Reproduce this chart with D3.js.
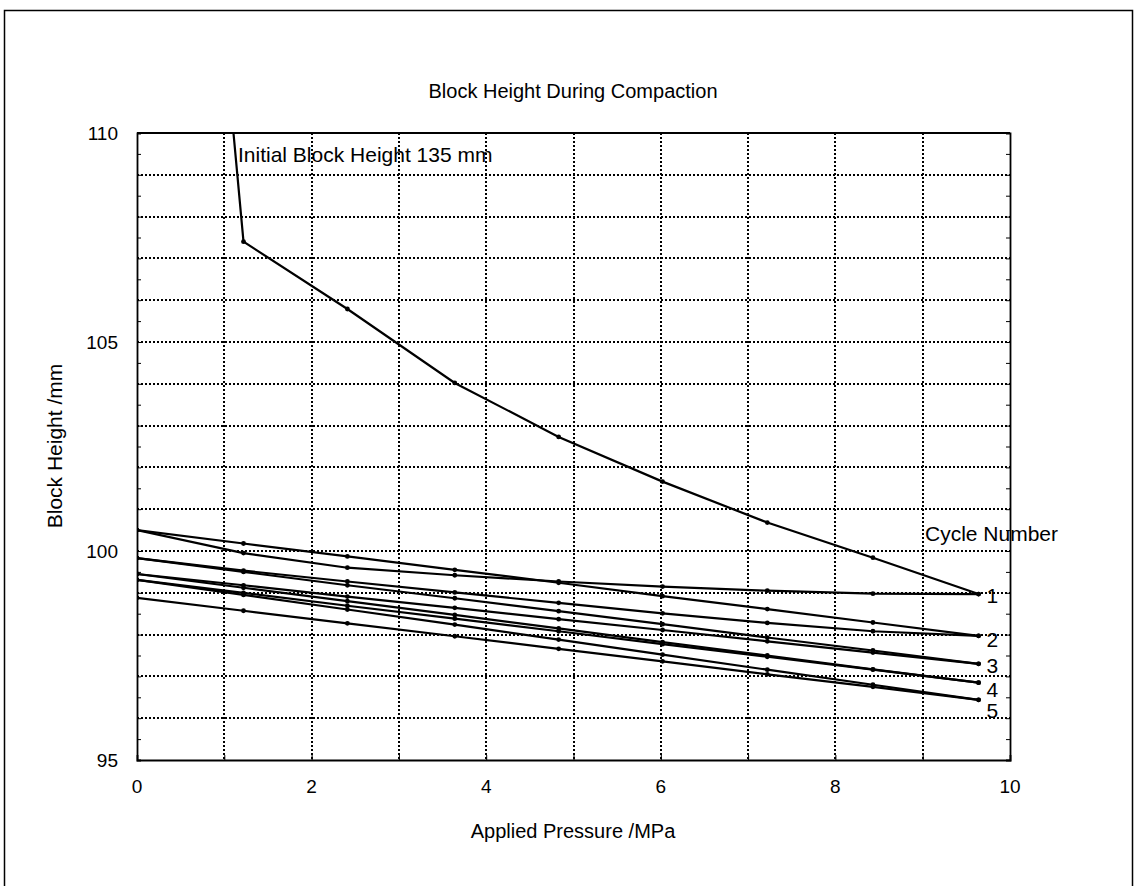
<!DOCTYPE html>
<html>
<head>
<meta charset="utf-8">
<script src="https://cdn.jsdelivr.net/npm/d3@7"></script>
<style>
    body { margin: 0; background: #fff; }
    text { font-family: "Liberation Sans", Arial, sans-serif; fill: #000; }
</style>
</head>
<body>
<div id="chart"></div>
<script>
// Applied pressure at each reading (MPa)
const pressure = [0, 1.22, 2.41, 3.64, 4.83, 6.02, 7.22, 8.43, 9.64];

// Block height (mm) at each pressure, loading and unloading per cycle
const load1   = [135, 107.4, 105.79, 104.02, 102.73, 101.66, 100.68, 99.84, 98.97];
const unload1 = [100.5, 99.95, 99.6, 99.42, 99.27, 99.15, 99.05, 98.98, 98.97];
const load2   = [100.5, 100.18, 99.87, 99.55, 99.24, 98.92, 98.61, 98.29, 97.97];
const unload2 = [99.83, 99.53, 99.27, 99.01, 98.76, 98.51, 98.28, 98.08, 97.97];
const load3   = [99.83, 99.5, 99.18, 98.87, 98.56, 98.25, 97.93, 97.62, 97.3];
const unload3 = [99.45, 99.18, 98.91, 98.64, 98.37, 98.11, 97.84, 97.57, 97.3];
const load4   = [99.45, 99.12, 98.8, 98.47, 98.15, 97.82, 97.5, 97.17, 96.85];
const unload4 = [99.31, 99.0, 98.69, 98.38, 98.08, 97.77, 97.47, 97.16, 96.85];
const load5   = [99.31, 98.95, 98.6, 98.24, 97.88, 97.52, 97.16, 96.8, 96.44];
const unload5 = [98.88, 98.57, 98.27, 97.96, 97.66, 97.36, 97.05, 96.75, 96.44];

const cycleNames = ["1", "2", "3", "4", "5"];
const xTicks = [0, 2, 4, 6, 8, 10];
const yTicks = [95, 100, 105, 110];

const series = [load1, unload1, load2, unload2, load3, unload3, load4, unload4, load5, unload5];
const cycleEnds = [load1, load2, load3, load4, load5];

const width = 1135, height = 886;
const plotLeft = 137, plotRight = 1010, plotTop = 133, plotBottom = 760;

const svg = d3.select("#chart").append("svg")
    .attr("width", width)
    .attr("height", height);

// Outer frame
svg.append("rect")
    .attr("x", 4.5).attr("y", 10.5)
    .attr("width", 1128).attr("height", 880)
    .attr("fill", "none").attr("stroke", "#000").attr("stroke-width", 1.5);

const x = d3.scaleLinear().domain([0, 10]).range([plotLeft, plotRight]);
const y = d3.scaleLinear().domain([95, 110]).range([plotBottom, plotTop]);

// Dotted grid
svg.append("g")
    .attr("shape-rendering", "crispEdges")
    .selectAll("line")
    .data(d3.range(96, 110))
    .join("line")
    .attr("x1", plotLeft).attr("x2", plotRight)
    .attr("y1", d => Math.round(y(d))).attr("y2", d => Math.round(y(d)))
    .attr("stroke", "#000").attr("stroke-width", 2)
    .attr("stroke-dasharray", "2,2");
svg.append("g")
    .attr("shape-rendering", "crispEdges")
    .selectAll("line")
    .data(d3.range(1, 10))
    .join("line")
    .attr("x1", d => Math.round(x(d))).attr("x2", d => Math.round(x(d)))
    .attr("y1", plotTop).attr("y2", plotBottom)
    .attr("stroke", "#000").attr("stroke-width", 2)
    .attr("stroke-dasharray", "2,2");

// Axes with small ticks, labels drawn separately
svg.append("g")
    .attr("transform", `translate(0,${plotBottom})`)
    .call(d3.axisBottom(x).ticks(10).tickSize(-5).tickFormat(""))
    .call(g => g.select(".domain").attr("stroke-width", 1.8));
svg.append("g")
    .attr("transform", `translate(${plotLeft},0)`)
    .call(d3.axisLeft(y).ticks(30).tickSize(-4).tickFormat(""))
    .call(g => g.select(".domain").attr("stroke-width", 1.8));
svg.append("g")
    .attr("transform", `translate(${plotRight},0)`)
    .call(d3.axisRight(y).ticks(30).tickSize(-4).tickFormat(""))
    .call(g => g.select(".domain").attr("stroke-width", 1.8));
svg.append("line")
    .attr("x1", plotLeft).attr("x2", plotRight)
    .attr("y1", plotTop).attr("y2", plotTop)
    .attr("stroke", "#000").attr("stroke-width", 1.8);

// Tick labels
svg.append("g")
    .selectAll("text")
    .data(xTicks)
    .join("text")
    .attr("x", d => x(d)).attr("y", plotBottom + 33)
    .attr("text-anchor", "middle")
    .attr("font-size", 19)
    .text(d => d);
svg.append("g")
    .selectAll("text")
    .data(yTicks)
    .join("text")
    .attr("x", plotLeft - 19).attr("y", d => y(d) + 7)
    .attr("text-anchor", "end")
    .attr("font-size", 19)
    .text(d => d);

// Titles
svg.append("text")
    .attr("x", 573).attr("y", 98)
    .attr("text-anchor", "middle").attr("font-size", 20)
    .text("Block Height During Compaction");
svg.append("text")
    .attr("x", 573).attr("y", 838)
    .attr("text-anchor", "middle").attr("font-size", 20)
    .text("Applied Pressure /MPa");
svg.append("text")
    .attr("transform", "translate(62,446) rotate(-90)")
    .attr("text-anchor", "middle").attr("font-size", 21)
    .text("Block Height /mm");

// Clip lines to the plot area
svg.append("clipPath").attr("id", "plotClip")
    .append("rect")
    .attr("x", plotLeft).attr("y", plotTop)
    .attr("width", plotRight - plotLeft).attr("height", plotBottom - plotTop);

const line = d3.line()
    .x((d, i) => x(pressure[i]))
    .y(d => y(d));

const plot = svg.append("g").attr("clip-path", "url(#plotClip)");

plot.selectAll(".cycleLine")
    .data(series)
    .join("path")
    .attr("class", "cycleLine")
    .attr("d", line)
    .attr("fill", "none")
    .attr("stroke", "#000")
    .attr("stroke-width", 2.2);

// Point markers
series.forEach(s => {
    plot.append("g")
        .selectAll("circle")
        .data(s)
        .join("circle")
        .attr("cx", (d, i) => x(pressure[i]))
        .attr("cy", d => y(d))
        .attr("r", 2.4)
        .attr("fill", "#000");
});

// Annotations
svg.append("text")
    .attr("x", 238).attr("y", 162)
    .attr("font-size", 21)
    .text("Initial Block Height 135 mm");
svg.append("text")
    .attr("x", 925).attr("y", 541)
    .attr("font-size", 21)
    .text("Cycle Number");

// Cycle number labels at line ends (4 and 5 nudged down to avoid overlap)
const labelShift = [0, 2, 0, 5, 9];
svg.append("g")
    .selectAll("text")
    .data(cycleEnds)
    .join("text")
    .attr("x", x(pressure[pressure.length - 1]) + 8)
    .attr("y", (d, i) => y(d[d.length - 1]) + 9 + labelShift[i])
    .attr("font-size", 21)
    .text((d, i) => cycleNames[i]);
</script>
</body>
</html>
